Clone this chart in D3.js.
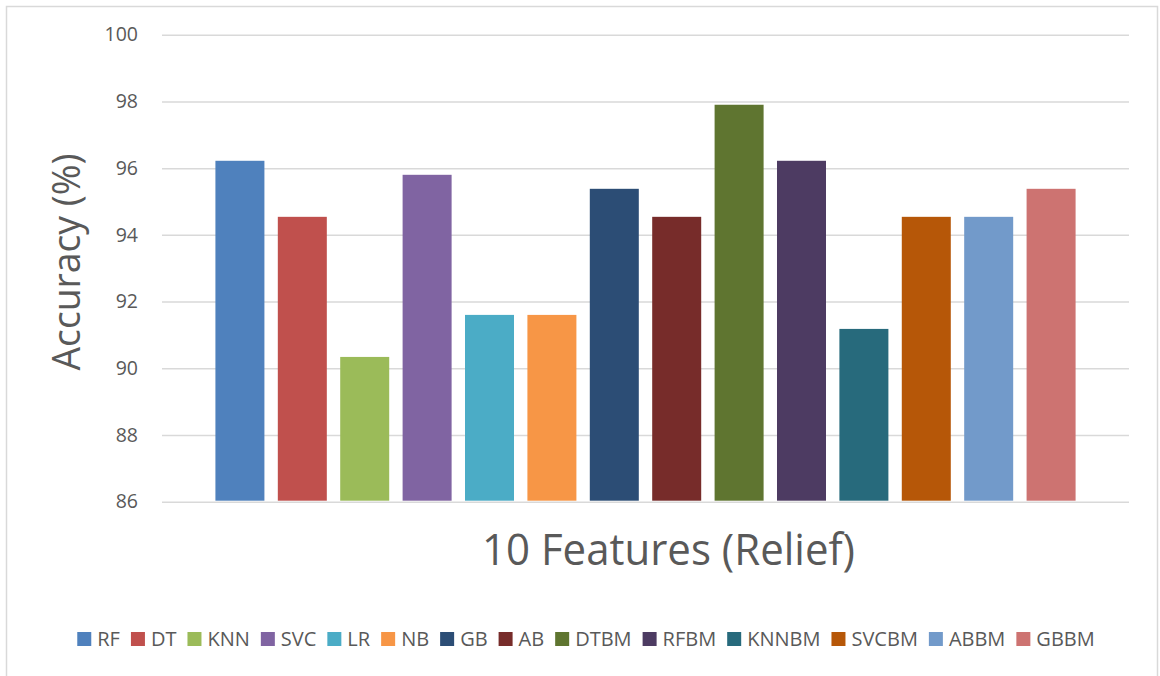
<!DOCTYPE html>
<html>
<head>
<meta charset="utf-8">
<script src="https://cdn.jsdelivr.net/npm/d3@7"></script>
<style>
  html, body { margin: 0; padding: 0; background: #fff; }
  svg { display: block; font-family: "Open Sans", "Noto Sans", sans-serif; }
</style>
</head>
<body>
<svg id="chart" width="1160" height="676"></svg>
<script>
// ---- data ----
const models = ["RF","DT","KNN","SVC","LR","NB","GB","AB","DTBM","RFBM","KNNBM","SVCBM","ABBM","GBBM"];
const accuracy = [96.22, 94.54, 90.34, 95.8, 91.6, 91.6, 95.38, 94.54, 97.9, 96.22, 91.18, 94.54, 94.54, 95.38];
const colors = ["#4F81BD","#C0504D","#9BBB59","#8064A2","#4BACC6","#F79646","#2C4D75","#772C2A","#5F7530","#4D3B62","#276A7C","#B65708","#729ACA","#CD7371"];
const yTicks = [86, 88, 90, 92, 94, 96, 98, 100];
const xTitle = "10 Features (Relief)";
const yTitle = "Accuracy (%)";

// ---- layout ----
const plot = { left: 162, right: 1129, top: 34.7, bottom: 501.7 };
const textColor = "#595959";
const gridColor = "#D9D9D9";

const svg = d3.select("#chart");

// outer border
svg.append("rect")
  .attr("x", 6.5).attr("y", 6.5)
  .attr("width", 1151).attr("height", 680)
  .attr("fill", "#fff").attr("stroke", gridColor).attr("stroke-width", 1.5);

const y = d3.scaleLinear().domain([86, 100]).range([plot.bottom, plot.top]);
const x = d3.scaleBand().domain(models).range([plot.left, plot.right])
  .paddingInner(0.2147).paddingOuter(0.856);

// gridlines + y axis
const yAxis = d3.axisLeft(y).tickValues(yTicks).tickSize(-(plot.right - plot.left)).tickPadding(24).tickFormat(d3.format("d"));
const gy = svg.append("g").attr("transform", `translate(${plot.left},0)`).call(yAxis);
gy.select(".domain").remove();
gy.selectAll(".tick line").attr("stroke", gridColor).attr("stroke-width", 1.5);
gy.selectAll(".tick text").attr("fill", textColor).attr("font-size", 19.5).attr("font-family", "'Open Sans', sans-serif");

// bars
svg.append("g").selectAll("rect").data(models).join("rect")
  .attr("x", d => x(d))
  .attr("width", x.bandwidth())
  .attr("y", (d, i) => y(accuracy[i]))
  .attr("height", (d, i) => y(86) - y(accuracy[i]) - 1)
  .attr("fill", (d, i) => colors[i]);

// axis titles
svg.append("text")
  .attr("x", 668.5).attr("y", 565)
  .attr("text-anchor", "middle")
  .attr("fill", textColor).attr("font-size", 44)
  .attr("textLength", 373).attr("lengthAdjust", "spacingAndGlyphs")
  .text(xTitle);

svg.append("text")
  .attr("transform", "translate(80,262) rotate(-90)")
  .attr("text-anchor", "middle")
  .attr("fill", textColor).attr("font-size", 38)
  .attr("textLength", 217).attr("lengthAdjust", "spacingAndGlyphs")
  .text(yTitle);

// legend
const legend = svg.append("g");
const sq = 14, gapText = 6, gapItem = 11;
const items = legend.selectAll("g").data(models).join("g");
items.append("rect").attr("width", sq).attr("height", sq).attr("y", -sq / 2)
  .attr("fill", (d, i) => colors[i]);
const texts = items.append("text")
  .attr("x", sq + gapText).attr("y", 0).attr("dy", "0.36em")
  .attr("fill", textColor).attr("font-size", 20)
  .text(d => d);
let cx = 0;
const offsets = [];
texts.each(function () {
  offsets.push(cx);
  cx += sq + gapText + this.getComputedTextLength() + gapItem;
});
const total = cx - gapItem;
const start = 586 - total / 2;
items.attr("transform", (d, i) => `translate(${start + offsets[i]},639)`);
</script>
</body>
</html>
